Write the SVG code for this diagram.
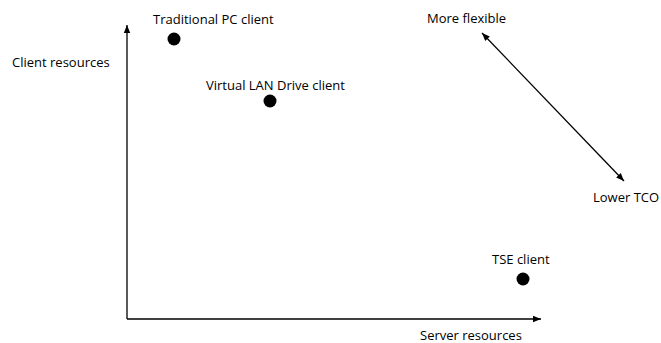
<svg xmlns="http://www.w3.org/2000/svg" width="661" height="343" viewBox="0 0 661 343">
  <style>
    .lbl { font-family: "Open Sans", "DejaVu Sans", sans-serif; font-size: 13px; fill: #000; }
    .ax { stroke: #000; stroke-width: 1.3; fill: none; }
    .dot { fill: #000; }
  </style>
  <defs>
    <marker id="head" viewBox="0 0 10 10" refX="10" refY="5" markerWidth="8" markerHeight="8" markerUnits="userSpaceOnUse" orient="auto-start-reverse">
      <path d="M0,1 L10,5 L0,9 Z" fill="#000"/>
    </marker>
  </defs>
  <rect width="661" height="343" fill="#fff"/>

  <g id="connectors">
    <!-- axes -->
    <line class="ax" x1="127" y1="319" x2="127" y2="25" marker-end="url(#head)"/>
    <line class="ax" x1="127" y1="319" x2="541" y2="319" marker-end="url(#head)"/>
    <!-- trade-off arrow -->
    <line class="ax" x1="482" y1="33" x2="624" y2="181" stroke-width="1" marker-start="url(#head)" marker-end="url(#head)"/>
  </g>

  <g id="axis-y"><text class="lbl" x="12" y="67">Client resources</text></g>
  <g id="axis-x"><text class="lbl" x="420" y="340">Server resources</text></g>

  <g id="traditional-pc">
    <circle class="dot" cx="174" cy="39" r="6.5"/>
    <text class="lbl" x="153" y="24">Traditional PC client</text>
  </g>
  <g id="virtual-lan">
    <circle class="dot" cx="270" cy="101" r="6.5"/>
    <text class="lbl" x="206" y="90">Virtual LAN Drive client</text>
  </g>
  <g id="tse">
    <circle class="dot" cx="523" cy="279" r="6.5"/>
    <text class="lbl" x="492" y="264">TSE client</text>
  </g>
  <g id="more-flexible"><text class="lbl" x="427" y="23">More flexible</text></g>
  <g id="lower-tco"><text class="lbl" x="593" y="202">Lower TCO</text></g>
</svg>
